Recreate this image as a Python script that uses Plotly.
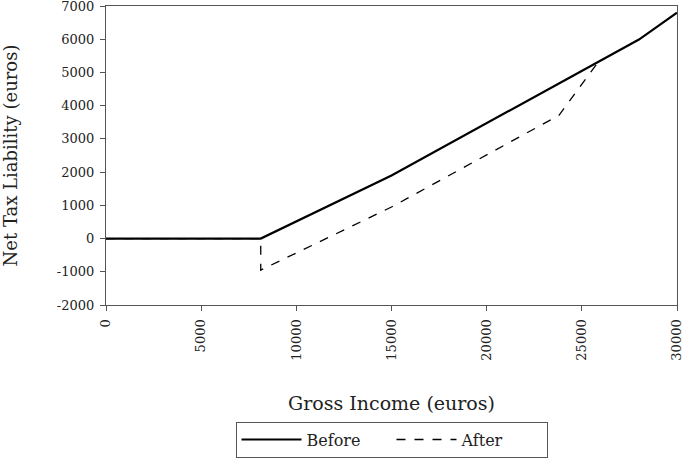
import plotly.graph_objects as go

# Data
before_income = [0, 8130, 15000, 28000, 30000]
before_tax = [0, 0, 1900, 5990, 6800]

after_income = [0, 8130, 8130, 15000, 23800, 25870]
after_tax = [0, 0, -950, 950, 3710, 5320]

x_ticks = [0, 5000, 10000, 15000, 20000, 25000, 30000]
y_ticks = [-2000, -1000, 0, 1000, 2000, 3000, 4000, 5000, 6000, 7000]

FONT = "DejaVu Serif"

fig = go.Figure()
fig.add_trace(go.Scatter(x=before_income, y=before_tax, mode="lines", name="Before",
                         line=dict(color="black", width=2.2)))
fig.add_trace(go.Scatter(x=after_income, y=after_tax, mode="lines", name="After",
                         line=dict(color="black", width=1.3, dash="dash")))

axis_common = dict(showgrid=False, zeroline=False, showline=True, linecolor="#555",
                   linewidth=1.2, mirror=True, ticks="outside", ticklen=5,
                   tickcolor="#555", tickfont=dict(family=FONT, size=13, color="#222"),
                   automargin=False, ticklabeloverflow="allow", ticklabelstandoff=3)

fig.update_xaxes(range=[0, 30000], tickvals=x_ticks, ticktext=[str(v) for v in x_ticks],
                 tickangle=-90,
                 title=dict(text="Gross Income (euros)", font=dict(family=FONT, size=19, color="#222"),
                            standoff=37),
                 **axis_common)
fig.update_yaxes(range=[-2000, 7000], tickvals=y_ticks, ticktext=[str(v) for v in y_ticks],
                 title=dict(text="Net Tax Liability (euros)", font=dict(family=FONT, size=18, color="#222"),
                            standoff=34),
                 **axis_common)

fig.update_layout(
    width=685, height=459,
    margin=dict(l=106, r=8, t=6, b=154, autoexpand=False),
    plot_bgcolor="white", paper_bgcolor="white",
    font=dict(family=FONT, color="#222"),
    legend=dict(orientation="h", x=0.5, xanchor="center", y=-0.39, yanchor="top",
                bordercolor="#555", borderwidth=1, font=dict(family=FONT, size=16),
                itemwidth=60, entrywidth=80, entrywidthmode="pixels"),
)

fig.write_html("out.html", config={"displayModeBar": False},
               post_script="document.body.style.margin='0';document.body.style.overflow='hidden';")
